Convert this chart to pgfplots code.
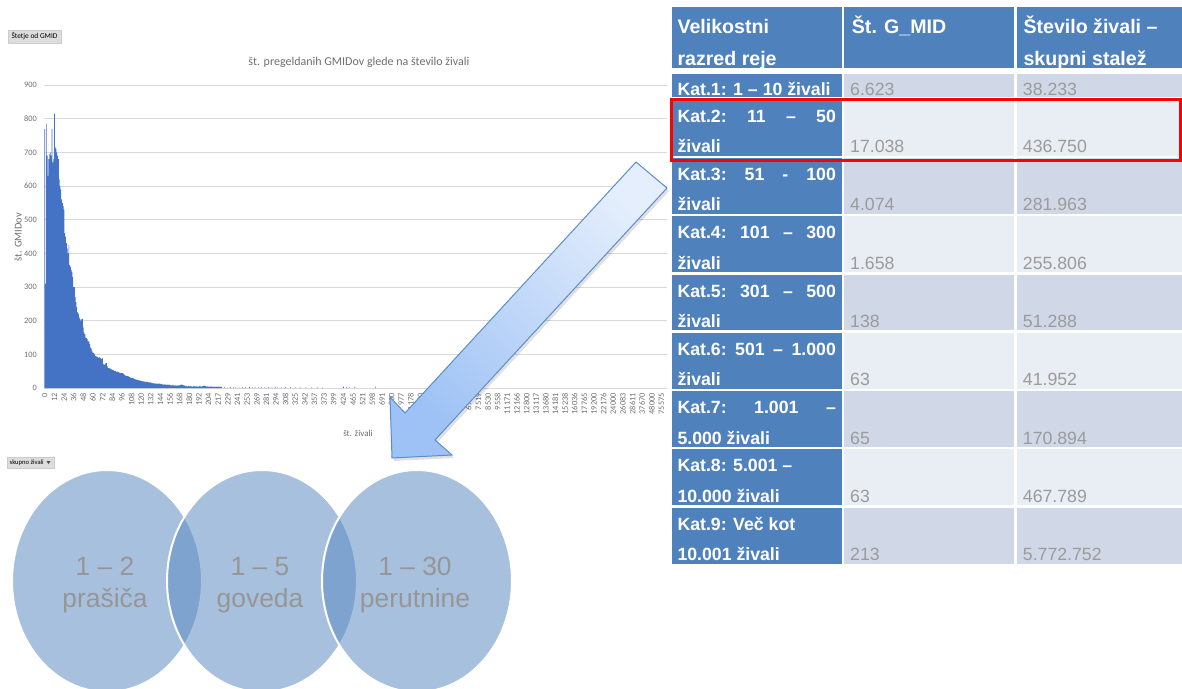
\documentclass[border=0pt]{standalone}
\usepackage{pgfplots}
\pgfplotsset{compat=1.18}
\usepackage{pgfplotstable}
\usepackage{fontspec}
\setmainfont{Liberation Sans}
\newfontfamily\calibri{Carlito}
\definecolor{barblue}{RGB}{68,114,196}
\definecolor{gridgray}{RGB}{217,217,217}
\definecolor{chtext}{RGB}{110,110,110}
\definecolor{hdrblue}{RGB}{79,129,189}
\definecolor{rowdark}{RGB}{208,216,232}
\definecolor{rowlight}{RGB}{233,237,244}
\definecolor{celltext}{RGB}{155,155,155}
\definecolor{circblue}{RGB}{90,137,193}
\definecolor{circtext}{RGB}{150,150,150}
\definecolor{arrowtop}{RGB}{228,238,252}
\definecolor{arrowbot}{RGB}{158,194,245}
\definecolor{arrowline}{RGB}{91,141,205}
\definecolor{btngray}{RGB}{221,221,221}

\pgfplotstableread[row sep=\\]{
i v\\
0 770\\ 1 310\\ 2 785\\ 3 690\\ 4 630\\ 5 680\\ 6 695\\ 7 700\\ 8 690\\ 9 770\\
10 670\\ 11 680\\ 12 815\\ 13 715\\ 14 710\\ 15 700\\ 16 690\\ 17 680\\ 18 620\\ 19 600\\
20 590\\ 21 560\\ 22 550\\ 23 540\\ 24 530\\ 25 460\\ 26 450\\ 27 430\\ 28 415\\ 29 400\\
30 425\\ 31 365\\ 32 360\\ 33 350\\ 34 345\\ 35 330\\ 36 300\\ 37 300\\ 38 270\\ 39 255\\
40 240\\ 41 225\\ 42 220\\ 43 210\\ 44 205\\ 45 200\\ 46 205\\ 47 205\\ 48 180\\ 49 165\\
50 160\\ 51 150\\ 52 148\\ 53 145\\ 54 140\\ 55 138\\ 56 130\\ 57 120\\ 58 118\\ 59 110\\
60 105\\ 61 104\\ 62 100\\ 63 96\\ 64 94\\ 65 93\\ 66 92\\ 67 90\\ 68 92\\ 69 89\\
70 88\\ 71 86\\ 72 89\\ 73 72\\ 74 69\\ 75 70\\ 76 74\\ 77 74\\ 78 65\\ 79 60\\
80 59\\ 81 58\\ 82 57\\ 83 55\\ 84 54\\ 85 54\\ 86 52\\ 87 50\\ 88 50\\ 89 49\\
90 48\\ 91 49\\ 92 47\\ 93 46\\ 94 45\\ 95 44\\ 96 45\\ 97 44\\ 98 42\\ 99 40\\
100 38\\ 101 36\\ 102 36\\ 103 35\\ 104 35\\ 105 33\\ 106 32\\ 107 31\\ 108 30\\ 109 30\\
110 30\\ 111 28\\ 112 27\\ 113 26\\ 114 25\\ 115 24\\ 116 24\\ 117 23\\ 118 23\\ 119 22\\
120 21\\ 121 21\\ 122 20\\ 123 20\\ 124 19\\ 125 19\\ 126 18\\ 127 18\\ 128 18\\ 129 17\\
130 17\\ 131 17\\ 132 16\\ 133 15\\ 134 15\\ 135 14\\ 136 14\\ 137 14\\ 138 13\\ 139 13\\
140 13\\ 141 12\\ 142 13\\ 143 13\\ 144 12\\ 145 12\\ 146 11\\ 147 11\\ 148 10\\ 149 11\\
150 10\\ 151 10\\ 152 9\\ 153 10\\ 154 9\\ 155 10\\ 156 9\\ 157 8\\ 158 8\\ 159 9\\
160 8\\ 161 8\\ 162 7\\ 163 8\\ 164 7\\ 165 8\\ 166 7\\ 167 8\\ 168 8\\ 169 9\\
170 10\\ 171 9\\ 172 10\\ 173 8\\ 174 7\\ 175 6\\ 176 6\\ 177 5\\ 178 5\\ 179 6\\
180 5\\ 181 5\\ 182 6\\ 183 5\\ 184 4\\ 185 5\\ 186 6\\ 187 5\\ 188 4\\ 189 5\\
190 4\\ 191 5\\ 192 4\\ 193 6\\ 194 5\\ 195 4\\ 196 5\\ 197 6\\ 198 7\\ 199 6\\
200 6\\ 201 5\\ 202 4\\ 203 5\\ 204 4\\ 205 3\\ 206 4\\ 207 5\\ 208 4\\ 209 3\\
210 4\\ 211 3\\ 212 4\\ 213 3\\ 214 4\\ 215 3\\ 216 4\\ 217 3\\ 218 4\\ 219 3\\
220 3\\ 224 3\\ 228 2\\ 231 3\\ 235 2\\ 238 3\\ 242 2\\ 246 3\\ 250 2\\ 255 3\\
259 2\\ 262 3\\ 266 2\\ 270 3\\ 274 2\\ 279 3\\ 283 2\\ 287 3\\ 290 2\\ 295 2\\
300 3\\ 306 2\\ 312 2\\ 318 3\\ 325 2\\ 332 2\\ 340 2\\ 346 2\\ 372 4\\ 376 3\\
380 4\\ 386 3\\ 412 4\\
}\gmid

\begin{document}
\begin{tikzpicture}
\useasboundingbox (0,0) rectangle (1182pt,-688pt);
\clip (0,0) rectangle (1182pt,-688pt);
\begin{axis}[
  at={(44pt,-388pt)}, anchor=south west, scale only axis,
  width=623pt, height=303pt,
  xmin=-1, xmax=775, ymin=0, ymax=900,
  ytick={0,100,...,900},
  xtick={0,12,...,768},
  xticklabels={0,12,24,36,48,60,72,84,96,108,120,132,144,156,168,180,192,204,217,229,241,253,269,281,294,308,325,342,357,373,399,424,465,521,598,691,800,977,1178,1500,2000,2600,3400,4500,6719,7519,8530,9558,11171,12166,12800,13117,13680,14181,15238,16036,17765,19200,22176,24000,26083,28611,37670,48000,75575},
  ymajorgrids, grid style={draw=gridgray, line width=0.9pt},
  axis line style={draw=none},
  major tick length=0pt,
  /pgf/number format/assume math mode=true,
  xticklabel style={font=\calibri\fontsize{8.3}{8.3}\selectfont, text=chtext, rotate=90, anchor=east, inner sep=0pt},
  yticklabel style={font=\calibri\fontsize{8.3}{8.3}\selectfont, text=chtext, inner sep=0pt},
  xticklabel shift=5pt,
  yticklabel shift=7pt,
]
\addplot[ybar, bar width=0.8, fill=barblue, draw=none] table[x=i,y=v]{\gmid};
\end{axis}

\begin{scope}[x=1pt,y=-1pt]
% chart texts
\node[font=\calibri\fontsize{12}{14}\selectfont, text=chtext] at (359,62) {št. pregeldanih GMIDov glede na število živali};
\node[font=\calibri\fontsize{10.5}{12}\selectfont, text=chtext, rotate=90] at (18,237) {št. GMIDov};
\node[font=\calibri\fontsize{9}{10}\selectfont, text=chtext] at (358,433) {št. živali};
% buttons
\draw[fill=btngray, draw=black!20] (8,30) rectangle (61,43);
\node[font=\calibri\fontsize{7.4}{8}\selectfont, inner sep=0pt] at (34.5,36.5) {Štetje od GMID};
\draw[fill=btngray, draw=black!20] (7,457) rectangle (54,468);
\node[font=\calibri\fontsize{6.6}{8}\selectfont, inner sep=0pt, anchor=west] at (9.5,462.5) {skupno živali};
\fill[black!70] (46.5,461) -- (50.5,461) -- (48.5,464) -- cycle;

% arrow
\fill[black, opacity=0.12] (638,165) -- (669,191) -- (437,443) -- (454,458) -- (394,461) -- (392,400) -- (407,416) -- cycle;
\shade[top color=arrowtop, bottom color=arrowbot, shading angle=-45, draw=arrowline, line width=1pt]
  (636,162) -- (667,188) -- (435,440) -- (452,455) -- (392,458) -- (390,397) -- (405,413) -- cycle;

% table
\fill[hdrblue] (672,7) rectangle (842.3,68.3);
\fill[hdrblue] (844,7) rectangle (1014.3,68.3);
\fill[hdrblue] (1016.7,7) rectangle (1182,68.3);
\foreach \t/\b/\c in {74/96.7/rowdark, 99.6/155.5/rowlight, 157.9/213.8/rowdark, 216.2/272.1/rowlight, 274.5/330.4/rowdark, 332.8/388.7/rowlight, 391.1/447/rowdark, 449.4/505.3/rowlight, 507.7/563.6/rowdark}{
  \fill[hdrblue] (672,\t) rectangle (842.3,\b);
  \fill[\c] (844,\t) rectangle (1014.3,\b);
  \fill[\c] (1016.7,\t) rectangle (1182,\b);
}
\tikzset{
  hdr/.style={font=\bfseries\fontsize{19.6}{20}\selectfont, text=white, anchor=base west, inner sep=0pt},
  cat/.style={font=\bfseries\fontsize{17.7}{18}\selectfont, text=white, anchor=base west, inner sep=0pt},
  val/.style={font=\fontsize{17.7}{18}\selectfont, text=celltext, anchor=base west, inner sep=0pt},
}
\node[hdr] at (677.3,33.3) {Velikostni};
\node[hdr] at (677.3,65) {razred reje};
\node[hdr] at (851.7,33.3) {Št. G\_MID};
\node[hdr] at (1023.3,33.3) {Število živali –};
\node[hdr] at (1023.3,65) {skupni stalež};
% row 1
\node[cat] at (677.3,95) {Kat.1: 1 – 10 živali};
\node[val] at (850,95) {6.623};
\node[val] at (1022.7,95) {38.233};
% rows 2-9
\node[cat] at (677.3,122.1) {\makebox[158.4pt][l]{Kat.2:\hfill 11\hfill –\hfill 50}};
\node[cat] at (677.3,152.6) {živali};
\node[val] at (850,152.6) {17.038};
\node[val] at (1022.7,152.6) {436.750};
\node[cat] at (677.3,180.4) {\makebox[158.4pt][l]{Kat.3:\hfill 51\hfill -\hfill 100}};
\node[cat] at (677.3,210.9) {živali};
\node[val] at (850,210.9) {4.074};
\node[val] at (1022.7,210.9) {281.963};
\node[cat] at (677.3,238.7) {\makebox[158.4pt][l]{Kat.4:\hfill 101\hfill –\hfill 300}};
\node[cat] at (677.3,269.2) {živali};
\node[val] at (850,269.2) {1.658};
\node[val] at (1022.7,269.2) {255.806};
\node[cat] at (677.3,297) {\makebox[158.4pt][l]{Kat.5:\hfill 301\hfill –\hfill 500}};
\node[cat] at (677.3,327.5) {živali};
\node[val] at (850,327.5) {138};
\node[val] at (1022.7,327.5) {51.288};
\node[cat] at (677.3,355.3) {\makebox[158.4pt][l]{Kat.6:\hfill 501\hfill –\hfill 1.000}};
\node[cat] at (677.3,385.8) {živali};
\node[val] at (850,385.8) {63};
\node[val] at (1022.7,385.8) {41.952};
\node[cat] at (677.3,413.6) {\makebox[158.4pt][l]{Kat.7:\hfill 1.001\hfill –}};
\node[cat] at (677.3,444.1) {5.000 živali};
\node[val] at (850,444.1) {65};
\node[val] at (1022.7,444.1) {170.894};
\node[cat] at (677.3,471.9) {Kat.8: 5.001 –};
\node[cat] at (677.3,502.4) {10.000 živali};
\node[val] at (850,502.4) {63};
\node[val] at (1022.7,502.4) {467.789};
\node[cat] at (677.3,530.2) {Kat.9: Več kot};
\node[cat] at (677.3,560.7) {10.001 živali};
\node[val] at (850,560.7) {213};
\node[val] at (1022.7,560.7) {5.772.752};
% red highlight
\draw[red, line width=3pt] (671.5,99.2) rectangle (1180.5,160.3);

% circles
\foreach \cx in {107,262,417}{
  \draw[fill=circblue, fill opacity=0.534, draw=white, line width=2pt] (\cx,581) ellipse [x radius=95, y radius=111];
}
\tikzset{ct/.style={font=\fontsize{26.4}{30}\selectfont, text=circtext, anchor=base, inner sep=0pt}}
\node[ct] at (105,575) {1 – 2};
\node[ct] at (105,607) {prašiča};
\node[ct] at (260,575) {1 – 5};
\node[ct] at (260,607) {goveda};
\node[ct] at (415,575) {1 – 30};
\node[ct] at (415,607) {perutnine};
\end{scope}
\end{tikzpicture}
\end{document}
